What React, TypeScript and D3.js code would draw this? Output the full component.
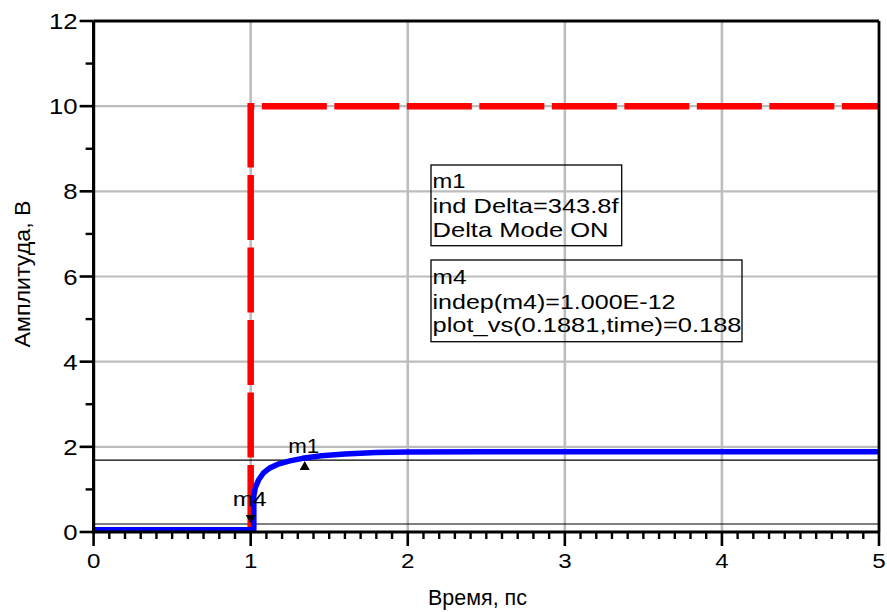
import React from 'react';
import * as d3 from 'd3';

// axis ticks
const xTicks = [0, 1, 2, 3, 4, 5];
const yTicks = [0, 2, 4, 6, 8, 10, 12];
const yMinor = [1, 3, 5, 7, 9, 11];

// input step (red, dashed)
const stepTime = [1.0, 1.0, 5.0];
const stepAmp = [0, 10, 10];

// output response (blue)
const respTime = [0, 1.02, 1.02, 1.03, 1.05, 1.08, 1.12, 1.18, 1.25, 1.33, 1.45, 1.6, 1.8, 2.0, 2.5, 3.0, 4.0, 5.0];
const respAmp = [0.05, 0.05, 0.85, 1.05, 1.22, 1.38, 1.5, 1.6, 1.67, 1.73, 1.79, 1.83, 1.865, 1.878, 1.882, 1.884, 1.884, 1.884];

// markers
const markerNames = ['m1', 'm4'];
const markerTime = [1.344, 1.0];
const markerAmp = [1.69, 0.188];

const m1Lines = ['m1', 'ind Delta=343.8f', 'Delta Mode ON'];
const m1Widths = [33, 186, 176];
const m4Lines = ['m4', 'indep(m4)=1.000E-12', 'plot_vs(0.1881,time)=0.188'];
const m4Widths = [34, 243, 309];

const FONT = '"Liberation Sans", Arial, sans-serif';

const App: React.FC = () => {
  const x = d3.scaleLinear().domain([0, 5]).range([93.6, 879]);
  const y = d3.scaleLinear().domain([0, 12]).range([532, 21]);

  const line = d3.line<[number, number]>().x(d => x(d[0])).y(d => y(d[1]));
  const stepPath = line([[1.0, 0] as [number, number], ...stepTime.map((t, i) => [t, stepAmp[i]] as [number, number])]);
  const respPath = line(respTime.map((t, i) => [t, respAmp[i]] as [number, number]));

  const xMinor = d3.range(1, 50).filter(i => i % 10 !== 0).map(i => i / 10);

  const box = (lines: string[], widths: number[], bx: number, by: number, bw: number, bh: number, baselines: number[]) => (
    <g>
      <rect x={bx} y={by} width={bw} height={bh} fill="none" stroke="#000" strokeWidth={1.3}/>
      {lines.map((s, i) => (
        <text key={i} x={bx + 1.5} y={baselines[i]} fontSize={21} textLength={widths[i]}
              lengthAdjust="spacingAndGlyphs">{s}</text>
      ))}
    </g>
  );

  return (
    <div style={{position: 'fixed', left: 0, top: 0, background: '#fff'}}>
      <svg width={887} height={612} style={{display: 'block'}} fontFamily={FONT}>
        <rect width={887} height={612} fill="#fff"/>
        {/* grid */}
        {xTicks.slice(1, -1).map(t => (
          <line key={'gx' + t} x1={x(t)} x2={x(t)} y1={y(0)} y2={y(12)} stroke="#bdbdbd" strokeWidth={2.6}/>
        ))}
        {yTicks.slice(1, -1).map(t => (
          <line key={'gy' + t} x1={x(0)} x2={x(5)} y1={y(t)} y2={y(t)} stroke="#bdbdbd" strokeWidth={2.2}/>
        ))}

        {/* marker reference lines */}
        {markerAmp.map((v, i) => (
          <line key={'ml' + i} x1={x(0)} x2={x(5)} y1={y(v)} y2={y(v)} stroke="#000" strokeWidth={1.2}/>
        ))}

        {/* step */}
        <path d={stepPath!} fill="none" stroke="#ff0000" strokeWidth={6.5} strokeDasharray="65 7.5"
              strokeDashoffset={-2}/>
        {/* response */}
        <path d={respPath!} fill="none" stroke="#0000ff" strokeWidth={5.5} strokeLinejoin="round"/>

        {/* markers */}
        {markerNames.map((name, i) => {
          const mx = x(markerTime[i]);
          const my = y(markerAmp[i]);
          const up = name === 'm1';
          const tri = up
            ? `M${mx},${my + 1} L${mx - 5},${my + 10} L${mx + 5},${my + 10} Z`
            : `M${mx},${my - 1} L${mx - 5},${my - 9} L${mx + 5},${my - 9} Z`;
          return (
            <g key={name}>
              <path d={tri} fill="#000"/>
              <text x={up ? mx - 1 : mx - 1} y={up ? my - 7 : my - 18} fontSize={21} textAnchor="middle"
                    textLength={up ? 31 : 34} lengthAdjust="spacingAndGlyphs">{name}</text>
            </g>
          );
        })}

        {/* frame */}
        <line x1={x(0)} x2={x(5)} y1={y(12)} y2={y(12)} stroke="#000" strokeWidth={3}/>
        <line x1={x(5)} x2={x(5)} y1={y(12)} y2={y(0)} stroke="#000" strokeWidth={2.8}/>
        <line x1={x(0)} x2={x(0)} y1={y(12)} y2={y(0) + 1.5} stroke="#000" strokeWidth={3.2}/>
        <line x1={x(0)} x2={x(5)} y1={y(0)} y2={y(0)} stroke="#000" strokeWidth={3}/>

        {/* y ticks */}
        {yTicks.map(t => (
          <g key={'yt' + t}>
            <line x1={x(0) - 14} x2={x(0)} y1={y(t)} y2={y(t)} stroke="#000" strokeWidth={2.6}/>
            <text transform={`translate(${x(0) - 16},${y(t) + 8}) scale(1.12,1)`} fontSize={23}
                  textAnchor="end">{t}</text>
          </g>
        ))}
        {yMinor.map(t => (
          <line key={'ym' + t} x1={x(0) - 8} x2={x(0)} y1={y(t)} y2={y(t)} stroke="#000" strokeWidth={2.4}/>
        ))}

        {/* x ticks */}
        {xTicks.map(t => (
          <g key={'xt' + t}>
            <line x1={x(t)} x2={x(t)} y1={y(0)} y2={y(0) + 14} stroke="#000" strokeWidth={2.6}/>
            <text transform={`translate(${x(t)},${y(0) + 36}) scale(1.15,1)`} fontSize={21}
                  textAnchor="middle">{t}</text>
          </g>
        ))}
        {xMinor.map(t => (
          <line key={'xm' + t} x1={x(t)} x2={x(t)} y1={y(0)} y2={y(0) + 7} stroke="#000" strokeWidth={2.4}/>
        ))}

        {/* axis titles */}
        <text x={477.5} y={605} fontSize={22} textAnchor="middle" textLength={99}
              lengthAdjust="spacingAndGlyphs">Время, пс</text>
        <text transform="translate(30,274) rotate(-90)" fontSize={22} textAnchor="middle" textLength={147}
              lengthAdjust="spacingAndGlyphs">Амплитуда, В</text>

        {/* marker readouts */}
        {box(m1Lines, m1Widths, 431, 165, 190.7, 80.7, [187.5, 212.5, 237])}
        {box(m4Lines, m4Widths, 431, 260, 311, 81.7, [283.5, 308.5, 331.5])}
      </svg>
    </div>
  );
};

export default App;
